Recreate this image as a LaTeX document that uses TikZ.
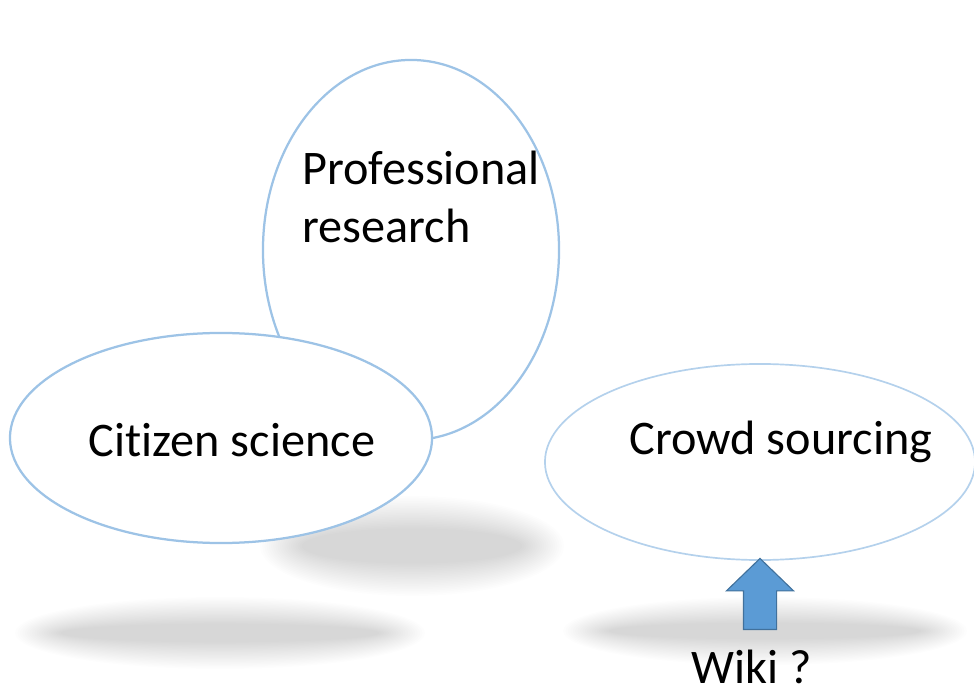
\documentclass[tikz,border=0pt]{standalone}
\usepackage{fontspec}
\setmainfont{Carlito}[Ligatures=NoCommon]
\usetikzlibrary{shapes.geometric,shapes.arrows}
\definecolor{ringblue}{HTML}{9DC3E6}
\definecolor{ringlight}{HTML}{B4D1EC}
\definecolor{arrowfill}{HTML}{5B9BD5}
\definecolor{arrowline}{HTML}{41719C}
\tikzset{
  bubble/.style={ellipse,draw=ringblue,line width=1.6pt,fill=white,inner sep=0pt},
  label text/.style={inner sep=0pt,font=\fontsize{34.3}{41.5}\selectfont,align=left},
  shade blob/.style={fill=black,opacity=0.0085,draw=none}
}
\begin{document}
\begin{tikzpicture}[x=0.025cm,y=-0.025cm]
\useasboundingbox (0,0) rectangle (974,694);
% soft shadows
\foreach \k in {0,...,19}
{
	\path[shade blob] (412,546) ellipse [x radius=152-2.2*\k, y radius=50-1.7*\k];
	\path[shade blob] (220,633) ellipse [x radius=205-2.4*\k, y radius=36-1.4*\k];
	\path[shade blob] (765,631) ellipse [x radius=202-2.4*\k, y radius=34-1.35*\k];
}
% ellipses
\node[bubble,minimum width=7.4cm,minimum height=9.5cm] (prof) at (411,250) {};
\node[bubble,minimum width=10.55cm,minimum height=5.25cm] (citizen) at (221,438) {};
\node[bubble,draw=ringlight,line width=1.2pt,minimum width=10.75cm,minimum height=4.9cm] (crowd) at (760,462) {};
\node[label text,anchor=west] (proftext) at (302,197) {Professional\\research};
\node[label text] (citizentext) at (232,440) {Citizen science};
\node[label text] (crowdtext) at (781,442) {Crowd sourcing};
% arrow
\node[single arrow,draw=arrowline,fill=arrowfill,line width=0.8pt,inner xsep=0pt,inner ysep=0.4cm,
  minimum height=1.775cm,single arrow head extend=0.425cm,single arrow tip angle=92,
  rotate=90,anchor=tip] (wikiarrow) at ([yshift=0.08cm]crowd.south) {};
\node[label text] (wiki) at (752,667) {Wiki ?};
\end{tikzpicture}
\end{document}
